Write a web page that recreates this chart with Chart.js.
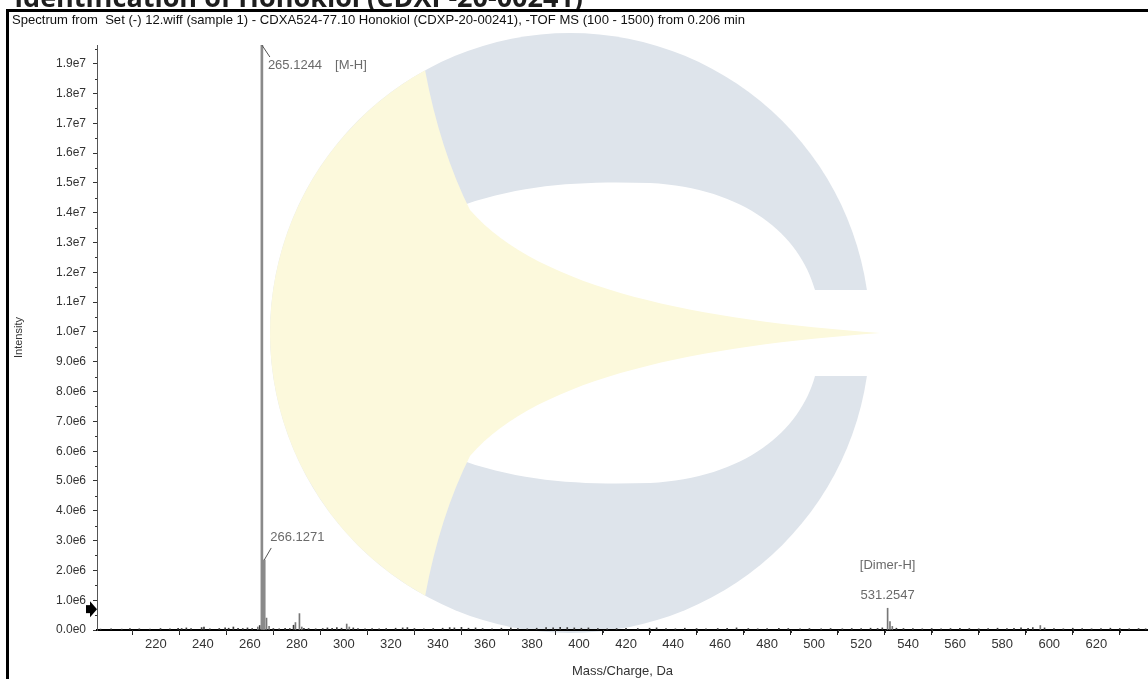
<!DOCTYPE html>
<html>
<head>
<meta charset="utf-8">
<script src="https://cdn.jsdelivr.net/npm/chart.js@4.4.1/dist/chart.umd.min.js"></script>
<style>
  html, body { margin: 0; padding: 0; background: #fff; overflow: hidden; }
  #wrap { position: relative; width: 1148px; height: 679px; }
</style>
</head>
<body>
<div id="wrap"><canvas id="spectrum"></canvas></div>
<script>
// labelled / main peaks (m/z, intensity in counts)
const peakMz = [265.1244, 266.1271];
const peakIntensity = [1.963e7, 2.35e6];

// smaller peaks that stand out of the baseline
const minorMz = [263.4, 267.1, 268.2, 279.4, 281.1, 282.1, 301.2, 302.3, 531.2547, 532.26, 533.25, 596.2];
const minorIntensity = [1.0e5, 4.0e5, 1.2e5, 2.5e5, 5.5e5, 1.0e5, 2.0e5, 1.0e5, 7.3e5, 2.8e5, 1.2e5, 1.5e5];

// baseline noise
const noiseMz = [196.5, 201, 205.5, 209, 213, 217.5, 222, 226, 229.5, 231, 233, 235, 239.5, 240.5, 243, 247, 249.5, 251, 253, 255, 257, 259, 261,
  264.2, 270, 272.5, 275, 277, 278.6, 283, 285, 288, 291, 293, 295, 297, 299, 304, 306, 309, 312, 315, 318, 322, 325, 327, 330, 334, 338,
  342, 345, 347, 350, 353, 356, 359, 363, 367, 371, 374, 378, 382, 386, 389, 392, 395, 398, 401, 404, 408, 412, 416, 420, 425, 430, 433,
  437, 441, 445, 450, 454, 459, 463, 467, 472, 476, 480, 485, 489, 494, 498, 503, 507, 512, 516, 520, 524, 527, 529, 535, 538, 542, 546,
  550, 554, 558, 562, 566, 570, 574, 578, 582, 585, 588, 591, 593, 598, 602, 606, 610, 614, 618, 622, 626, 630, 634, 638, 641];
const noiseIntensity = [3e4, 4e4, 3e4, 5e4, 4e4, 3e4, 5e4, 4e4, 6e4, 5e4, 7e4, 5e4, 8e4, 1e5, 4e4, 5e4, 7e4, 6e4, 1e5, 6e4, 5e4, 7e4, 5e4,
  1.5e5, 5e4, 4e4, 6e4, 5e4, 1.6e5, 6e4, 5e4, 4e4, 5e4, 7e4, 6e4, 8e4, 6e4, 7e4, 5e4, 4e4, 5e4, 4e4, 5e4, 6e4, 7e4, 8e4, 5e4, 4e4, 5e4,
  6e4, 8e4, 7e4, 9e4, 6e4, 7e4, 5e4, 4e4, 6e4, 7e4, 5e4, 4e4, 6e4, 8e4, 7e4, 9e4, 8e4, 7e4, 6e4, 7e4, 5e4, 4e4, 5e4, 6e4, 5e4, 6e4, 7e4,
  5e4, 4e4, 6e4, 5e4, 4e4, 5e4, 6e4, 7e4, 5e4, 4e4, 5e4, 6e4, 5e4, 4e4, 5e4, 4e4, 5e4, 4e4, 5e4, 5e4, 6e4, 5e4, 7e4, 6e4, 5e4, 5e4, 4e4,
  5e4, 4e4, 5e4, 6e4, 5e4, 4e4, 5e4, 6e4, 5e4, 6e4, 7e4, 6e4, 8e4, 7e4, 5e4, 4e4, 6e4, 5e4, 4e4, 5e4, 6e4, 5e4, 4e4, 5e4, 4e4];

// intensity axis labels run 0 .. 1.9e7 in steps of 1e6
const yTickValues = [0, 1e6, 2e6, 3e6, 4e6, 5e6, 6e6, 7e6, 8e6, 9e6, 1e7, 1.1e7, 1.2e7, 1.3e7, 1.4e7, 1.5e7, 1.6e7, 1.7e7, 1.8e7, 1.9e7];
const xTickValues = [220, 240, 260, 280, 300, 320, 340, 360, 380, 400, 420, 440, 460, 480, 500, 520, 540, 560, 580, 600, 620];

// peak annotations
const labelMz = [265.1244, 266.1271, 531.2547];
const labelIntensity = [1.963e7, 2.35e6, 7.3e5];
const labelText = ['265.1244', '266.1271', '531.2547'];
const labelTag = ['[M-H]', '', '[Dimer-H]'];

const heading = 'Identification of Honokiol (CDXP-20-00241)';
const subtitle = 'Spectrum from  Set (-) 12.wiff (sample 1) - CDXA524-77.10 Honokiol (CDXP-20-00241), -TOF MS (100 - 1500) from 0.206 min';
const markerIntensity = 7.0e5;  // the arrow on the intensity axis

const FONT = '"Liberation Sans", Arial, sans-serif';

function toPoints(xs, ys) {
  return xs.map((m, i) => ({ x: m, y: ys[i] }));
}

function sci(v) {
  if (v === 0) return '0.0e0';
  return v.toExponential(1).replace('e+', 'e');
}

// logo watermark, frame and header text behind the plot
const backdrop = {
  id: 'backdrop',
  beforeDraw(chart) {
    const ctx = chart.ctx;
    ctx.save();
    ctx.fillStyle = '#fff';
    ctx.fillRect(0, 0, chart.width, chart.height);

    const cx = 570, cy = 333, r = 300;
    // grey C
    ctx.fillStyle = '#dee4eb';
    ctx.beginPath();
    ctx.arc(cx, cy, r, 0, Math.PI * 2);
    ctx.fill();
    // hole and opening of the C
    ctx.fillStyle = '#fff';
    ctx.beginPath();
    ctx.moveTo(430, cy);
    ctx.lineTo(455, 208);
    ctx.bezierCurveTo(520, 184, 580, 181, 650, 183);
    ctx.bezierCurveTo(745, 188, 800, 235, 815, 290);
    ctx.lineTo(960, 290);
    ctx.lineTo(960, 376);
    ctx.lineTo(815, 376);
    ctx.bezierCurveTo(800, 431, 745, 478, 650, 483);
    ctx.bezierCurveTo(580, 485, 520, 482, 455, 458);
    ctx.closePath();
    ctx.fill();

    // yellow horn
    const a = Math.atan2(70 - cy, 425 - cx);
    ctx.fillStyle = '#fcf9dc';
    ctx.beginPath();
    ctx.moveTo(880, cy);
    ctx.bezierCurveTo(700, 320, 540, 290, 470, 210);
    ctx.quadraticCurveTo(440, 150, 425, 70);
    ctx.arc(cx, cy, r, a, -a, true);
    ctx.quadraticCurveTo(440, 516, 470, 456);
    ctx.bezierCurveTo(540, 376, 700, 346, 880, cy);
    ctx.closePath();
    ctx.fill();

    // cut off heading above the frame
    ctx.fillStyle = '#1e1e1e';
    ctx.font = 'bold 27px "Open Sans", sans-serif';
    ctx.textAlign = 'right';
    ctx.textBaseline = 'alphabetic';
    ctx.fillText(heading, 583, 7);

    // frame
    ctx.fillStyle = '#000';
    ctx.fillRect(6, 9, 1142, 3);
    ctx.fillRect(6, 9, 3, chart.height);

    // spectrum caption
    ctx.font = '13px ' + FONT;
    ctx.textAlign = 'left';
    ctx.textBaseline = 'middle';
    ctx.fillStyle = '#111';
    const w = ctx.measureText(subtitle).width;
    ctx.translate(12, 20);
    ctx.scale(733 / w, 1);
    ctx.fillText(subtitle, 0, 0);
    ctx.restore();
  }
};

// minor ticks, marker arrow and peak labels
const overlay = {
  id: 'overlay',
  afterDraw(chart) {
    const { ctx, scales: { x, y } } = chart;
    const left = chart.chartArea.left, bottom = chart.chartArea.bottom;
    ctx.save();
    ctx.strokeStyle = '#333';
    ctx.lineWidth = 1;
    ctx.beginPath();
    for (let v = 5e5; v < y.max; v += 1e6) {
      const py = Math.round(y.getPixelForValue(v)) + 0.5;
      ctx.moveTo(left - 2, py);
      ctx.lineTo(left, py);
    }
    for (let v = 210; v < x.max; v += 20) {
      const px = Math.round(x.getPixelForValue(v)) + 0.5;
      ctx.moveTo(px, bottom);
      ctx.lineTo(px, bottom + 3);
    }
    ctx.stroke();

    // arrow marker
    const my = y.getPixelForValue(markerIntensity);
    ctx.fillStyle = '#000';
    ctx.fillRect(left - 11, my - 4, 5, 8);
    ctx.beginPath();
    ctx.moveTo(left - 7, my - 8);
    ctx.lineTo(left, my);
    ctx.lineTo(left - 7, my + 8);
    ctx.closePath();
    ctx.fill();

    // peak labels
    ctx.font = '13px ' + FONT;
    ctx.fillStyle = '#6a6a6a';
    ctx.strokeStyle = '#555';
    ctx.textBaseline = 'middle';
    labelMz.forEach((mz, i) => {
      const px = x.getPixelForValue(mz);
      const py = y.getPixelForValue(labelIntensity[i]);
      if (py < chart.chartArea.top + 20) {
        ctx.beginPath();
        ctx.moveTo(px, py);
        ctx.lineTo(px + 8, py + 12);
        ctx.stroke();
        ctx.textAlign = 'left';
        ctx.fillText(labelText[i], px + 6, py + 20);
        const tw = ctx.measureText(labelText[i]).width;
        ctx.fillText(labelTag[i], px + 6 + tw + 13, py + 20);
      } else if (labelTag[i] === '') {
        ctx.beginPath();
        ctx.moveTo(px, py);
        ctx.lineTo(px + 7, py - 12);
        ctx.stroke();
        ctx.textAlign = 'left';
        ctx.fillText(labelText[i], px + 6, py - 23);
      } else {
        ctx.textAlign = 'center';
        ctx.fillText(labelText[i], px, py - 13);
        ctx.fillText(labelTag[i], px, py - 43);
      }
    });
    ctx.restore();
  }
};

new Chart(document.getElementById('spectrum'), {
  type: 'bar',
  data: {
    datasets: [
      { label: 'peaks', data: toPoints(peakMz, peakIntensity), backgroundColor: '#8a8a8a', barThickness: 2, grouped: false },
      { label: 'minor', data: toPoints(minorMz, minorIntensity), backgroundColor: '#777', barThickness: 1, grouped: false },
      { label: 'noise', data: toPoints(noiseMz, noiseIntensity), backgroundColor: '#3a3a3a', barThickness: 1, grouped: false }
    ]
  },
  plugins: [backdrop, overlay],
  options: {
    responsive: true,
    maintainAspectRatio: false,
    devicePixelRatio: 1,
    animation: false,
    layout: { padding: { top: 45, left: 10, right: 0, bottom: 0 } },
    plugins: { legend: { display: false }, tooltip: { enabled: false } },
    scales: {
      x: {
        type: 'linear',
        min: 195,
        max: 642,
        offset: false,
        afterFit: (s) => { s.height = 49; },
        afterBuildTicks: (s) => { s.ticks = xTickValues.map(v => ({ value: v })); },
        grid: { drawOnChartArea: false, drawTicks: true, tickLength: 5, tickColor: '#222' },
        border: { display: true, color: '#000', width: 2 },
        ticks: { maxRotation: 0, autoSkip: false, padding: 2, color: '#333', font: { family: FONT, size: 13 } },
        title: { display: true, text: 'Mass/Charge, Da', color: '#333', font: { family: FONT, size: 13 }, padding: { top: 0, bottom: 0 } }
      },
      y: {
        min: 0,
        max: 1.963e7,
        afterFit: (s) => { s.width = 87; },
        afterBuildTicks: (s) => { s.ticks = yTickValues.map(v => ({ value: v })); },
        grid: { drawOnChartArea: false, drawTicks: true, tickLength: 4, tickColor: '#333' },
        border: { display: true, color: '#555', width: 1 },
        ticks: { autoSkip: false, padding: 7, color: '#333', font: { family: FONT, size: 12 }, callback: (v) => sci(v) },
        title: { display: true, text: 'Intensity', color: '#333', font: { family: FONT, size: 11 }, padding: { top: 2, bottom: 0 } }
      }
    }
  }
});
</script>
</body>
</html>
